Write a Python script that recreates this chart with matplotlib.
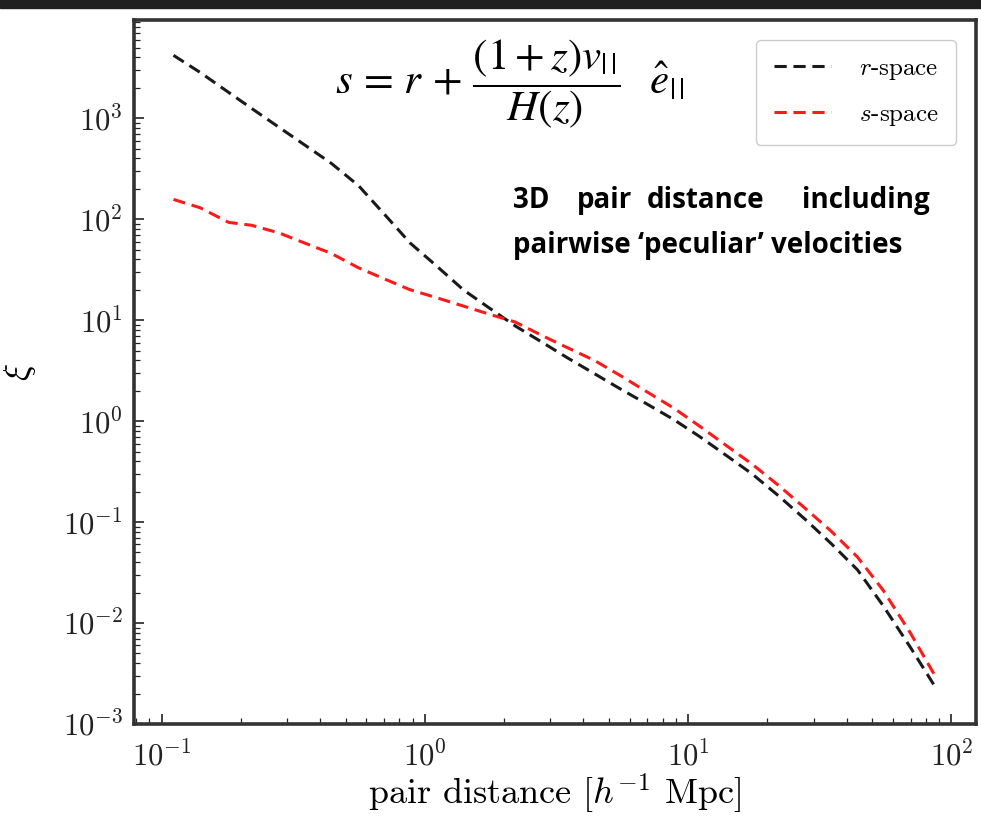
import matplotlib
matplotlib.use('Agg')
import matplotlib.pyplot as plt
from matplotlib.patches import Rectangle

# pair distance bins [h^-1 Mpc]
pair_dist = [0.111, 0.14, 0.18, 0.22, 0.28, 0.35, 0.44, 0.56, 0.7, 0.88,
             1.1, 1.4, 1.75, 2.2, 2.8, 3.5, 4.4, 5.5, 7.0, 8.8,
             11, 14, 17.5, 22, 28, 35, 44, 55, 70, 88]
xi_r = [4200, 2850, 1800, 1250, 810, 543, 360, 215, 113, 58,
        35, 20, 13.3, 8.8, 6.0, 4.2, 2.96, 2.1, 1.47, 1.04,
        0.71, 0.455, 0.30, 0.183, 0.105, 0.061, 0.0336, 0.0149, 0.0057, 0.0022]
xi_s = [157, 130, 93, 87, 73, 58, 46, 33, 25.7, 20,
        16.8, 13.8, 11.5, 9.6, 7.0, 5.3, 4.0, 2.85, 1.94, 1.35,
        0.90, 0.57, 0.375, 0.232, 0.135, 0.081, 0.045, 0.0212, 0.0079, 0.0028]
labels = ['$r$-space', '$s$-space']

W, H = 981, 824

plt.rcParams['font.family'] = ['cmr10']
plt.rcParams['mathtext.fontset'] = 'cm'
plt.rcParams['axes.formatter.use_mathtext'] = True

fig = plt.figure(figsize=(W / 100, H / 100), dpi=100)
ax = fig.add_axes([134 / W, 1 - 724 / H, (976 - 134) / W, (724 - 20) / H])

ax.plot(pair_dist, xi_r, ls=(0, (4, 2.2)), color='#1a1a1a', lw=2.2, label=labels[0])
ax.plot(pair_dist, xi_s, ls=(0, (4, 2.2)), color='#ff1a1a', lw=2.2, label=labels[1])

ax.set_xscale('log')
ax.set_yscale('log')
ax.set_xlim(0.0786, 124)
ax.set_ylim(1e-3, 9.4e3)

ax.tick_params(which='both', direction='in', labelsize=22, colors='#222222')
ax.tick_params(which='major', length=7, width=1.2)
ax.tick_params(axis='x', which='major', pad=12)
ax.tick_params(axis='y', which='major', pad=8)
ax.tick_params(which='minor', length=4, width=0.9)
for sp in ax.spines.values():
    sp.set_linewidth(2.6)
    sp.set_color('#333333')

ax.set_xlabel('pair distance [$h^{-1}$ Mpc]', fontsize=26, labelpad=0)
ax.set_ylabel(r'$\xi$', fontsize=26, labelpad=18)

leg = ax.legend(loc='upper right', fontsize=18, handlelength=2.3, labelspacing=0.85,
                borderpad=0.7, handletextpad=1.1, borderaxespad=0.8,
                fancybox=True, edgecolor='#cccccc', framealpha=1.0)

# formula
fig.text(335 / W, 1 - 84 / H,
         r'$s\,=\,r\,+\,\dfrac{(1+z)v_{|\,|}}{H(z)}\;\;\;\hat{e}_{|\,|}$',
         fontsize=31, ha='left', va='center', math_fontfamily='stix')

# justified annotation
bold = dict(fontsize=20, fontweight='bold', family='Open Sans', va='baseline')
y1 = 1 - 208 / H
fig.text(513 / W, y1, '3D', ha='left', **bold)
fig.text(577 / W, y1, 'pair', ha='left', **bold)
fig.text(647 / W, y1, 'distance', ha='left', **bold)
fig.text(930 / W, y1, 'including', ha='right', **bold)
fig.text(513 / W, 1 - 253 / H, 'pairwise \u2018peculiar\u2019 velocities', ha='left', **bold)

# dark strip at the top
fig.patches.append(Rectangle((0, 1 - 8 / H), 1, 8 / H, transform=fig.transFigure,
                             color='#202020', zorder=10))

fig.savefig('out.png', dpi=100)
